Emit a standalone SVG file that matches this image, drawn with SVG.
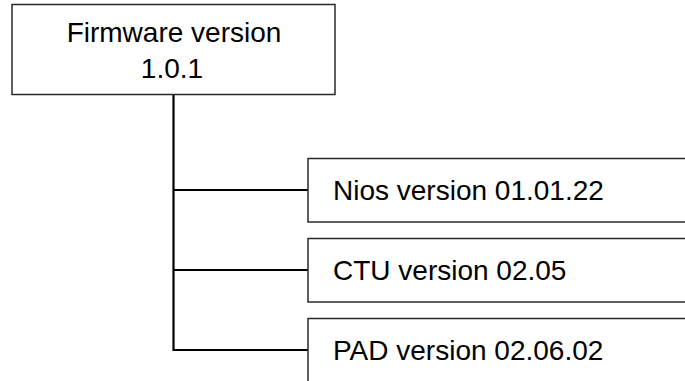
<svg xmlns="http://www.w3.org/2000/svg" width="685" height="381" viewBox="0 0 685 381">
  <style>
    .box { fill: #ffffff; stroke: #2a2a2a; stroke-width: 1.5; }
    .conn { fill: none; stroke: #000000; stroke-width: 2.2; }
    .t { font-family: "Liberation Sans", Arial, sans-serif; font-size: 28px; fill: #000000; }
  </style>
  <rect width="685" height="381" fill="#ffffff"/>
  <g id="connectors">
    <path class="conn" d="M173.5,95 V350 H308"/>
    <path class="conn" d="M173.5,190 H308"/>
    <path class="conn" d="M173.5,270 H308"/>
  </g>
  <g id="firmware">
    <rect class="box" x="12" y="4.5" width="323" height="90"/>
    <text class="t" x="174" y="42" text-anchor="middle">Firmware version</text>
    <text class="t" x="172" y="78" text-anchor="middle">1.0.1</text>
  </g>
  <g id="nios">
    <rect class="box" x="308" y="158.5" width="400" height="63.5"/>
    <text class="t" x="333" y="200">Nios version 01.01.22</text>
  </g>
  <g id="ctu">
    <rect class="box" x="308" y="238.5" width="400" height="63.5"/>
    <text class="t" x="333" y="280">CTU version 02.05</text>
  </g>
  <g id="pad">
    <rect class="box" x="308" y="318.5" width="400" height="70"/>
    <text class="t" x="333" y="360">PAD version 02.06.02</text>
  </g>
</svg>
